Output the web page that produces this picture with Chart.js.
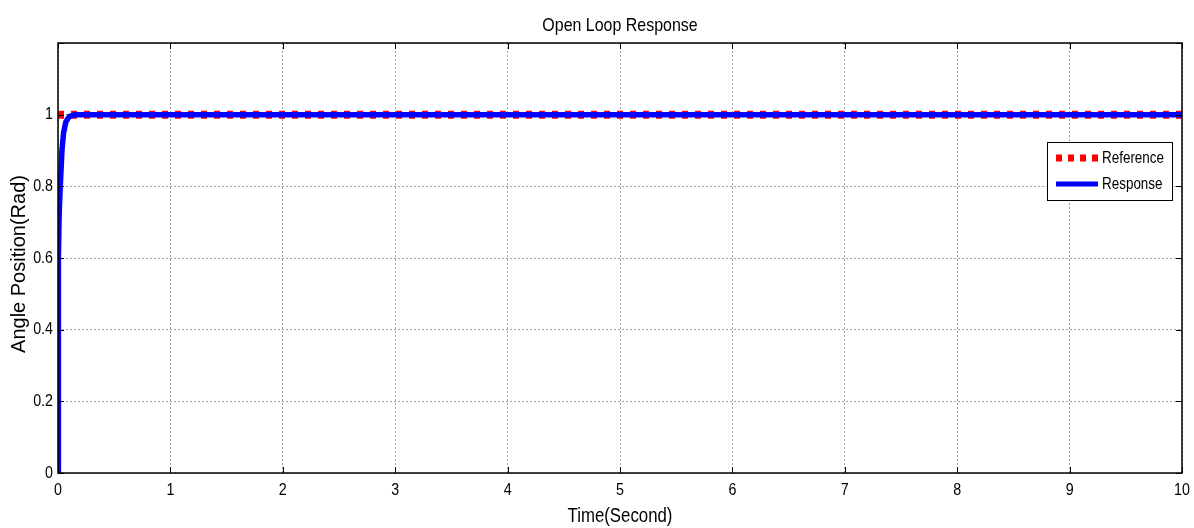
<!DOCTYPE html>
<html>
<head>
<meta charset="utf-8">
<script src="https://cdn.jsdelivr.net/npm/chart.js@4.4.1/dist/chart.umd.min.js"></script>
<style>
  html, body { margin: 0; padding: 0; background: #fff; }
  #wrap { width: 1194px; height: 528px; position: relative; }
</style>
</head>
<body>
<div id="wrap"><canvas id="c"></canvas></div>
<script>
// values
const refTime = [0, 10];
const refAngle = [1, 1];
const respTime = [0, 0.002, 0.005, 0.01, 0.02, 0.035, 0.05, 0.07, 0.1, 0.15, 0.3, 1, 2, 3, 4, 5, 6, 7, 8, 9, 10];
const respAngle = [0, 0.35, 0.6, 0.72, 0.8, 0.9, 0.95, 0.98, 0.995, 1, 1, 1, 1, 1, 1, 1, 1, 1, 1, 1, 1];
const xTicks = [0, 1, 2, 3, 4, 5, 6, 7, 8, 9, 10];
const yTicks = [0, 0.2, 0.4, 0.6, 0.8, 1, 1.2];

const sans = '"Liberation Sans", Arial, sans-serif';
const SQUEEZE = 0.84;

const toPts = (xs, ys) => xs.map((x, i) => ({ x, y: ys[i] }));

// condensed text, like the narrow Helvetica in the original
function narrowText(ctx, txt, x, y, size, align) {
  ctx.save();
  ctx.font = size + 'px ' + sans;
  ctx.textAlign = align || 'center';
  ctx.textBaseline = 'middle';
  ctx.translate(x, y);
  ctx.scale(SQUEEZE, 1);
  ctx.fillText(txt, 0, 0);
  ctx.restore();
}

// frame, inward ticks, labels, titles and legend, MATLAB style
const matlabDecor = {
  id: 'matlabDecor',
  afterDraw(chart) {
    const { ctx, chartArea: a, scales: { x, y } } = chart;
    ctx.save();
    ctx.strokeStyle = '#000';
    ctx.lineWidth = 1.5;
    ctx.strokeRect(a.left, a.top, a.right - a.left, a.bottom - a.top);
    ctx.lineWidth = 1;
    ctx.beginPath();
    xTicks.forEach(v => {
      const px = Math.round(x.getPixelForValue(v)) + 0.5;
      ctx.moveTo(px, a.bottom); ctx.lineTo(px, a.bottom - 6);
      ctx.moveTo(px, a.top); ctx.lineTo(px, a.top + 6);
    });
    yTicks.forEach(v => {
      const py = Math.round(y.getPixelForValue(v)) + 0.5;
      ctx.moveTo(a.left, py); ctx.lineTo(a.left + 6, py);
      ctx.moveTo(a.right, py); ctx.lineTo(a.right - 6, py);
    });
    ctx.stroke();

    ctx.fillStyle = '#000';
    xTicks.forEach(v => narrowText(ctx, String(v), x.getPixelForValue(v), a.bottom + 17, 17));
    yTicks.filter(v => v < 1.1).forEach(v =>
      narrowText(ctx, String(+v.toFixed(1)), a.left - 5, y.getPixelForValue(v), 17, 'right'));

    narrowText(ctx, 'Open Loop Response', (a.left + a.right) / 2, 26, 19);
    narrowText(ctx, 'Time(Second)', (a.left + a.right) / 2, 516, 20);
    ctx.save();
    ctx.translate(19, 264);
    ctx.rotate(-Math.PI / 2);
    ctx.font = '20px ' + sans;
    ctx.textAlign = 'center';
    ctx.textBaseline = 'middle';
    ctx.fillText('Angle Position(Rad)', 0, 0);
    ctx.restore();

    // legend box
    const bx = 1047, by = 142, bw = 125, bh = 58;
    ctx.fillStyle = '#fff';
    ctx.fillRect(bx, by, bw, bh);
    ctx.strokeStyle = '#000';
    ctx.lineWidth = 1;
    ctx.strokeRect(bx + 0.5, by + 0.5, bw, bh);
    chart.data.datasets.forEach((ds, i) => {
      const ly = by + 16 + i * 26;
      ctx.beginPath();
      ctx.strokeStyle = ds.borderColor;
      ctx.lineWidth = i === 0 ? 7 : 5;
      ctx.setLineDash(i === 0 ? [6, 6] : []);
      ctx.moveTo(bx + 9, ly); ctx.lineTo(bx + 51, ly);
      ctx.stroke();
      ctx.setLineDash([]);
      ctx.fillStyle = '#000';
      narrowText(ctx, ds.label, bx + 55, ly + 1, 16, 'left');
    });
    ctx.restore();
  }
};

new Chart(document.getElementById('c'), {
  type: 'line',
  data: {
    datasets: [
      { label: 'Reference', data: toPts(refTime, refAngle), borderColor: '#ff0000', borderWidth: 8,
        borderDash: [6, 7], pointRadius: 0, fill: false, tension: 0, order: 2 },
      { label: 'Response', data: toPts(respTime, respAngle), borderColor: '#0000ff', borderWidth: 5.5,
        pointRadius: 0, fill: false, tension: 0, order: 1 }
    ]
  },
  options: {
    responsive: true, maintainAspectRatio: false, animation: false,
    layout: { padding: { top: 43, right: 12, left: 0, bottom: 0 } },
    plugins: { legend: { display: false }, tooltip: { enabled: false }, title: { display: false } },
    scales: {
      x: {
        type: 'linear', min: 0, max: 10,
        afterFit: s => { s.height = 55; },
        afterBuildTicks: s => { s.ticks = xTicks.map(v => ({ value: v })); },
        grid: { color: '#a0a0a0', lineWidth: 1, drawTicks: false },
        border: { display: false, dash: [2, 2] },
        ticks: { display: false }
      },
      y: {
        type: 'linear', min: 0, max: 1.2,
        afterFit: s => { s.width = 58; },
        afterBuildTicks: s => { s.ticks = yTicks.map(v => ({ value: v })); },
        grid: { color: '#a0a0a0', lineWidth: 1, drawTicks: false },
        border: { display: false, dash: [2, 2] },
        ticks: { display: false }
      }
    }
  },
  plugins: [matlabDecor]
});
</script>
</body>
</html>
